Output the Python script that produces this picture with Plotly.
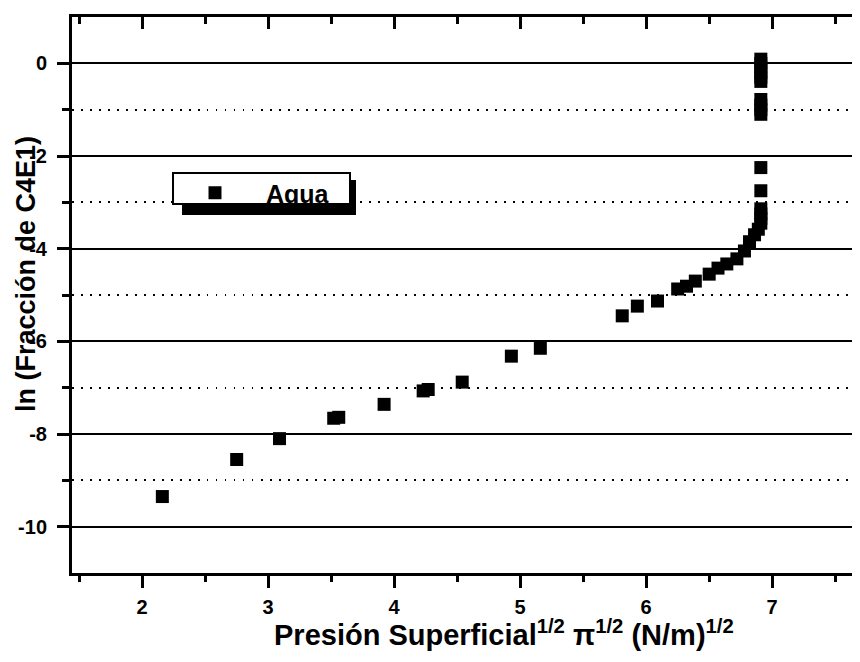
import plotly.graph_objects as go

# ---- data ----
x_agua = [2.16, 2.75, 3.09, 3.52, 3.56, 3.92, 4.23, 4.27, 4.54, 4.93, 5.16,
          5.81, 5.93, 6.09, 6.25, 6.32, 6.39, 6.50, 6.57, 6.64, 6.72, 6.78,
          6.82, 6.86, 6.89,
          6.91, 6.91, 6.91, 6.91, 6.91, 6.91, 6.91, 6.91, 6.91, 6.91,
          6.91, 6.91, 6.91, 6.91, 6.91, 6.91]
y_agua = [-9.35, -8.55, -8.10, -7.66, -7.64, -7.36, -7.07, -7.04, -6.88, -6.32, -6.15,
          -5.45, -5.24, -5.13, -4.87, -4.81, -4.70, -4.55, -4.42, -4.33, -4.22, -4.05,
          -3.85, -3.70, -3.58,
          -3.45, -3.35, -3.25, -3.14, -2.75, -2.25, -1.10, -1.00, -0.90, -0.78,
          -0.39, -0.30, -0.20, -0.10, 0.00, 0.09]
series_name = "Agua"

x_ticks = [2, 3, 4, 5, 6, 7]
x_ticktext = ["2", "3", "4", "5", "6", "7"]
x_minor = [1.5, 2.5, 3.5, 4.5, 5.5, 6.5, 7.5]
y_ticks = [0, -2, -4, -6, -8, -10]
y_ticktext = ["0", "-2", "-4", "-6", "-8", "-10"]
y_minor = [-9, -7, -5, -3, -1]
x_range = [1.443, 7.697]
y_range = [-11.0, 1.0]

x_title = "Presión Superficial<sup>1/2</sup> π<sup>1/2</sup> (N/m)<sup>1/2</sup>"
y_title = "ln (Fracción de C4E1)"

FONT = "Liberation Sans, Arial, sans-serif"

# plot area in page pixels (the page body adds an 8px offset)
L, R, T, B = 72, 860, 17, 573
OFF = 8
W, H = 852, 654


def px(xp):
    return (xp - L) / (R - L)


def py(yp):
    return (B - yp) / (B - T)


fig = go.Figure()
fig.add_trace(go.Scatter(
    x=x_agua, y=y_agua, mode="markers", name=series_name,
    marker=dict(symbol="square", size=13, color="black"),
))
# empty trace so that the top (mirrored, inward-ticked) axis is drawn
fig.add_trace(go.Scatter(x=[None], y=[None], xaxis="x2", yaxis="y",
                         showlegend=False, hoverinfo="skip", mode="markers"))

tickfont = dict(family=FONT, size=20, color="black", weight="bold")

fig.update_layout(
    width=W, height=H,
    margin=dict(l=L - OFF, r=0, t=T - OFF, b=H - (B - OFF)),
    paper_bgcolor="white", plot_bgcolor="white",
    showlegend=True,
    legend=dict(
        x=px(164), y=py(170), xanchor="left", yanchor="top",
        bgcolor="rgba(0,0,0,0)", borderwidth=0,
        font=dict(family=FONT, size=25, color="black", weight="bold"),
        itemwidth=92,
    ),
    xaxis=dict(
        range=x_range, tickmode="array", tickvals=x_ticks, ticktext=x_ticktext,
        showline=True, linecolor="black", linewidth=3,
        ticks="outside", ticklen=12, tickwidth=3, tickcolor="black",
        tickfont=tickfont, ticklabelstandoff=2,
        showgrid=False, zeroline=False, mirror=False,
        minor=dict(tickmode="array", tickvals=x_minor, ticks="outside",
                   ticklen=6, tickwidth=3, tickcolor="black", showgrid=False),
    ),
    xaxis2=dict(
        range=x_range, overlaying="x", side="top", anchor="y",
        showline=True, linecolor="black", linewidth=3,
        tickmode="array", tickvals=x_ticks, showticklabels=False,
        ticks="inside", ticklen=12, tickwidth=3, tickcolor="black",
        showgrid=False, zeroline=False,
        minor=dict(tickmode="array", tickvals=x_minor, ticks="inside",
                   ticklen=7, tickwidth=3, tickcolor="black", showgrid=False),
    ),
    yaxis=dict(
        range=y_range, tickmode="array", tickvals=y_ticks, ticktext=y_ticktext,
        showline=True, linecolor="black", linewidth=3,
        ticks="outside", ticklen=12, tickwidth=3, tickcolor="black",
        tickfont=tickfont, ticklabelstandoff=6,
        showgrid=True, gridcolor="black", gridwidth=2,
        zeroline=False, mirror=False,
        minor=dict(tickmode="array", tickvals=y_minor, ticks="outside",
                   ticklen=7, tickwidth=3, tickcolor="black",
                   showgrid=True, gridcolor="black", gridwidth=1.5,
                   griddash="1.5px,7.5px"),
    ),
    shapes=[
        # legend shadow
        dict(type="rect", xref="paper", yref="paper",
             x0=px(182), x1=px(356), y0=py(215), y1=py(180),
             fillcolor="black", line=dict(width=0), layer="above"),
        # legend box
        dict(type="rect", xref="paper", yref="paper",
             x0=px(173), x1=px(350), y0=py(204), y1=py(173),
             fillcolor="white", line=dict(color="black", width=2), layer="above"),
    ],
    annotations=[
        dict(text=x_title, xref="paper", yref="paper",
             x=px(504), y=py(633),
             xanchor="center", yanchor="middle", showarrow=False,
             font=dict(family=FONT, size=29, color="black", weight="bold")),
        dict(text=y_title, xref="paper", yref="paper", textangle=-90,
             x=px(26), y=py(274),
             xanchor="center", yanchor="middle", showarrow=False,
             font=dict(family=FONT, size=27, color="black", weight="bold")),
    ],
)

fig.write_html("out.html")
